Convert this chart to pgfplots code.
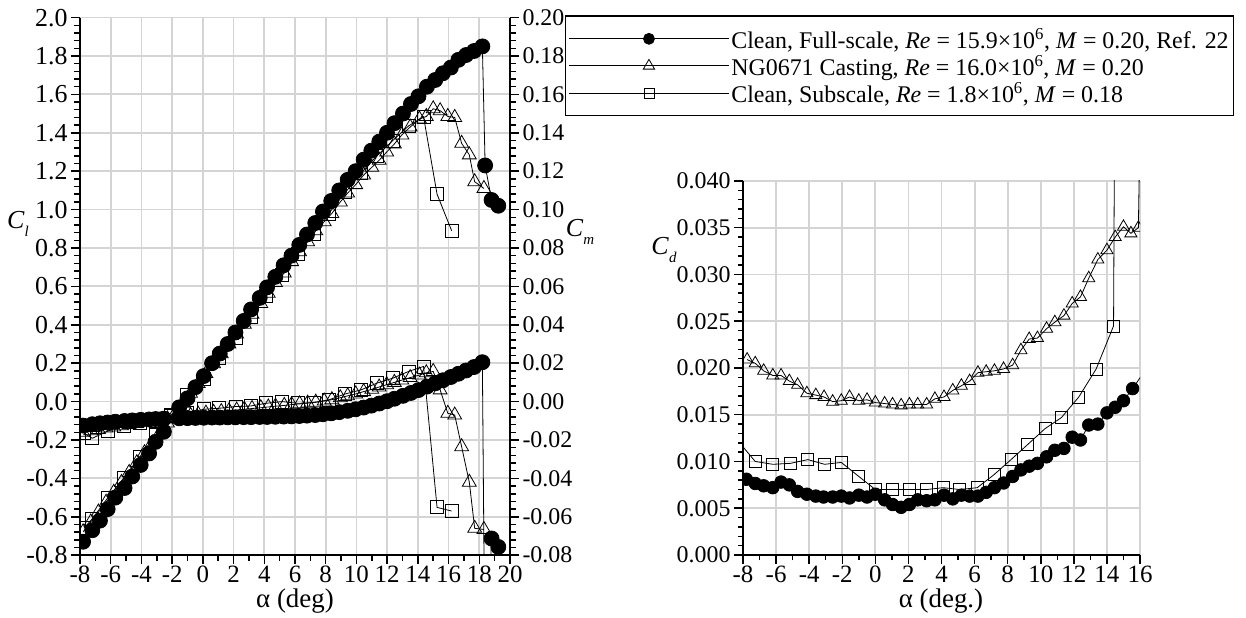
\documentclass[border=0pt]{standalone}
\usepackage{fontspec}
\setmainfont{Liberation Serif}
\usepackage{pgfplots}
\pgfplotsset{compat=1.18}

\pgfplotsset{
  mybase/.style={
    scale only axis,
    tick label style={font=\fontsize{24}{24}\selectfont},
    xticklabel style={inner sep=1.5bp, font=\fontsize{25}{25}\selectfont},
    /pgf/number format/assume math mode=true,
    major tick length=9bp, minor tick length=5.5bp,
    tick style={black, line width=1.5bp},
    minor tick style={black, line width=1.5bp},
    tick align=outside,
    axis line style={line width=1.8bp},
    major grid style={draw=black!17, line width=1.8bp},
    clip marker paths=true,
    every axis plot/.append style={line width=0.8bp},
  },
  pc/.style={black, mark=*, mark size=#1, mark options={fill=black, solid}},
  pt/.style={black, mark=triangle, mark size=#1, mark options={solid, fill=white, line width=0.8bp}},
  ps/.style={black, mark=square, mark size=#1, mark options={solid, fill=white, line width=0.8bp}},
}

\begin{document}
\begin{tikzpicture}[x=1bp,y=1bp]
\useasboundingbox (0,0) rectangle (1246,618);

% ---------------- Cl axis ----------------
\begin{axis}[mybase,
  at={(80bp,62.8bp)}, anchor=south west,
  width=430bp, height=537.6bp,
  xmin=-8, xmax=20, ymin=-0.8, ymax=2.0,
  xtick={-8,-6,-4,-2,0,2,4,6,8,10,12,14,16,18,20},
  ytick={-0.8,-0.6,-0.4,-0.2,0,0.2,0.4,0.6,0.8,1.0,1.2,1.4,1.6,1.8,2.0},
  minor x tick num=1, minor y tick num=4,
  grid=major,
  axis x line*=bottom, axis y line*=left,
  yticklabel style={font=\fontsize{26}{26}\selectfont, /pgf/number format/.cd, fixed, fixed zerofill, precision=1},
  legend style={at={(1.1279,1.0039)}, anchor=north west, draw=black, line width=1.1bp,
    fill=white, font=\fontsize{24}{28}\selectfont, row sep=1.5bp,
    inner xsep=3bp, inner ysep=10bp},
  legend cell align=left,
  legend image code/.code={\draw[mark repeat=2,mark phase=2,#1] plot coordinates {(0bp,0bp) (80bp,0bp) (160bp,0bp)};},
]
\addlegendimage{pc=5.5bp, line width=0.8bp}
\addlegendentry{Clean, Full-scale, \textit{Re} = 15.9×10\textsuperscript{6}, \textit{M} = 0.20, Ref. 22}
\addlegendimage{pt=6.5bp, line width=0.8bp}
\addlegendentry{NG0671 Casting, \textit{Re} = 16.0×10\textsuperscript{6}, \textit{M} = 0.20}
\addlegendimage{ps=5bp, line width=0.8bp}
\addlegendentry{Clean, Subscale, \textit{Re} = 1.8×10\textsuperscript{6}, \textit{M} = 0.18}

% squares Cl
\addplot[ps=6.5bp, forget plot] coordinates {
(-7.74,-0.66) (-7.2,-0.61) (-6.18,-0.50) (-5.14,-0.397) (-4.1,-0.287) (-3.08,-0.174)
(-2.06,-0.07) (-1.02,0.035) (0.06,0.118) (1.04,0.226) (2.12,0.33) (3.1,0.443)
(4.12,0.55) (5.16,0.66) (6.2,0.77) (7.2,0.875) (8.2,0.98) (9.28,1.09) (10.3,1.19)
(11.33,1.28) (12.37,1.36) (13.4,1.436) (14.37,1.484) (15.25,1.08) (16.2,0.89)};
% triangles Cl
\addplot[pt=8bp, forget plot] coordinates {
(-7.8,-0.678) (-7.3,-0.627) (-6.8,-0.575) (-6.3,-0.524) (-5.8,-0.472) (-5.3,-0.421)
(-4.8,-0.369) (-4.3,-0.318) (-3.8,-0.266) (-3.3,-0.215) (-2.8,-0.163) (-2.3,-0.112)
(-1.8,-0.060) (-1.3,-0.009) (-0.8,0.043) (-0.3,0.094) (0.2,0.146) (0.7,0.197)
(1.2,0.249) (1.7,0.300) (2.2,0.352) (2.7,0.403) (3.2,0.455) (3.77,0.511)
(4.26,0.564) (4.73,0.62) (5.3,0.67) (5.78,0.729) (6.3,0.78) (6.82,0.833)
(7.35,0.89) (7.9,0.937) (8.4,0.98) (8.95,1.04) (9.43,1.086) (9.95,1.13)
(10.47,1.18) (11.0,1.22) (11.48,1.257) (11.97,1.30) (12.47,1.342) (12.96,1.389)
(13.5,1.43) (14.1,1.472) (14.55,1.485) (15.0,1.525) (15.45,1.515) (15.95,1.485)
(16.4,1.48) (16.85,1.345) (17.35,1.285) (17.7,1.145) (18.3,1.11)};
% circles Cl
\addplot[pc=7.5bp, forget plot] coordinates {
(-7.8,-0.73) (-7.2,-0.67) (-6.7,-0.62) (-6.2,-0.56) (-5.7,-0.50) (-5.1,-0.45)
(-4.6,-0.39) (-4.05,-0.33) (-3.5,-0.27) (-3.08,-0.21) (-2.54,-0.157) (-1.54,-0.03)
(-1.0,0.017) (-0.48,0.075) (0.06,0.133) (0.6,0.20) (1.1,0.25) (1.62,0.30)
(2.12,0.36) (2.66,0.42) (3.14,0.48) (3.7,0.54) (4.18,0.595) (4.72,0.65)
(5.26,0.71) (5.77,0.76) (6.28,0.816) (6.78,0.87) (7.32,0.93) (7.82,0.99)
(8.36,1.045) (8.88,1.10) (9.43,1.155) (9.95,1.20) (10.47,1.26) (10.97,1.307)
(11.49,1.354) (11.99,1.40) (12.48,1.45) (13.03,1.50) (13.55,1.55) (14.04,1.59)
(14.59,1.64) (15.13,1.675) (15.63,1.71) (16.15,1.74) (16.64,1.78) (17.14,1.805)
(17.66,1.826) (18.2,1.85) (18.38,1.23) (18.8,1.05) (19.24,1.02)};
\end{axis}

% ---------------- Cm axis ----------------
\begin{axis}[mybase,
  at={(80bp,62.8bp)}, anchor=south west,
  width=430bp, height=537.6bp,
  xmin=-8, xmax=20, ymin=-0.08, ymax=0.20,
  hide x axis,
  axis y line*=right,
  ytick={-0.08,-0.06,-0.04,-0.02,0,0.02,0.04,0.06,0.08,0.10,0.12,0.14,0.16,0.18,0.20},
  minor y tick num=4,
  scaled y ticks=false,
  yticklabel style={/pgf/number format/.cd, fixed, fixed zerofill, precision=2},
]
% squares Cm
\addplot[ps=6.5bp] coordinates {
(-7.74,-0.0165) (-7.2,-0.0191) (-6.18,-0.0153) (-5.14,-0.0127) (-4.1,-0.0110) (-3.08,-0.0099)
(-2.06,-0.0075) (-1.02,-0.0060) (0.06,-0.0040) (1.04,-0.0035) (2.12,-0.0026) (3.1,-0.0023)
(4.12,-0.0009) (5.16,0.0000) (6.2,-0.0009) (7.2,-0.0005) (8.2,0.0009) (9.28,0.0040)
(10.3,0.0061) (11.33,0.0096) (12.37,0.0122) (13.4,0.0157) (14.37,0.0183) (15.25,-0.0551) (16.2,-0.0570)};
% triangles Cm
\addplot[pt=8bp] coordinates {
(-7.8,-0.0160) (-7.3,-0.0152) (-6.8,-0.0145) (-6.3,-0.0138) (-5.8,-0.0132) (-5.3,-0.0126)
(-4.8,-0.0120) (-4.3,-0.0114) (-3.8,-0.0108) (-3.3,-0.0102) (-2.8,-0.0096) (-2.3,-0.0090)
(-1.8,-0.0085) (-1.3,-0.0078) (-0.8,-0.0072) (-0.3,-0.0066) (0.2,-0.0060) (0.7,-0.0056)
(1.2,-0.0052) (1.7,-0.0048) (2.2,-0.0044) (2.7,-0.0040) (3.2,-0.0036) (3.77,-0.0032)
(4.26,-0.0028) (4.73,-0.0024) (5.3,-0.0020) (5.78,-0.0016) (6.3,-0.0012) (6.82,-0.0008)
(7.35,-0.0003) (7.9,0.0003) (8.4,0.0010) (8.95,0.0020) (9.43,0.0030) (9.95,0.0040)
(10.47,0.0052) (11.0,0.0064) (11.48,0.0076) (11.97,0.0088) (12.47,0.0100) (12.96,0.0112)
(13.5,0.0125) (14.1,0.0138) (14.55,0.0150) (15.0,0.0157) (15.45,0.0061) (15.95,-0.0061)
(16.4,-0.0070) (16.85,-0.0235) (17.35,-0.0420) (17.7,-0.0660) (18.3,-0.0666)};
% circles Cm
\addplot[pc=7.5bp] coordinates {
(-7.8,-0.0125) (-7.2,-0.0118) (-6.7,-0.0113) (-6.2,-0.0109) (-5.7,-0.0105) (-5.1,-0.0101)
(-4.6,-0.0098) (-4.05,-0.0095) (-3.5,-0.0093) (-3.08,-0.0091) (-2.54,-0.0089) (-1.54,-0.0087)
(-1.0,-0.0086) (-0.48,-0.0085) (0.06,-0.0084) (0.6,-0.0083) (1.1,-0.0083) (1.62,-0.0082)
(2.12,-0.0082) (2.66,-0.0081) (3.14,-0.0081) (3.7,-0.0080) (4.18,-0.0080) (4.72,-0.0079)
(5.26,-0.0078) (5.77,-0.0077) (6.28,-0.0075) (6.78,-0.0073) (7.32,-0.0070) (7.82,-0.0066)
(8.36,-0.0061) (8.88,-0.0055) (9.43,-0.0048) (9.95,-0.0040) (10.47,-0.0031) (10.97,-0.0021)
(11.49,-0.0010) (11.99,0.0002) (12.48,0.0015) (13.03,0.0030) (13.55,0.0045) (14.04,0.0060)
(14.59,0.0078) (15.13,0.0095) (15.63,0.0111) (16.15,0.0128) (16.64,0.0145) (17.14,0.0162)
(17.66,0.0180) (18.2,0.0205) (18.38,-0.1500) (18.8,-0.0713) (19.24,-0.0757)};
\end{axis}

% ---------------- Cd axis ----------------
\begin{axis}[mybase,
  at={(743bp,63bp)}, anchor=south west,
  width=397bp, height=374bp,
  xmin=-8, xmax=16, ymin=0, ymax=0.04,
  xtick={-8,-6,-4,-2,0,2,4,6,8,10,12,14,16},
  ytick={0,0.005,0.010,0.015,0.020,0.025,0.030,0.035,0.040},
  minor x tick num=1, minor y tick num=4,
  scaled y ticks=false,
  grid=major,
  axis x line*=bottom, axis y line*=left,
  yticklabel style={/pgf/number format/.cd, fixed, fixed zerofill, precision=3},
]
% triangles Cd
\addplot[pt=7bp] coordinates {
(-7.75,0.0209) (-7.26,0.0205) (-6.75,0.0197) (-6.2,0.0192) (-5.7,0.0192) (-5.2,0.0186)
(-4.7,0.0182) (-4.14,0.0173) (-3.6,0.0171) (-3.1,0.0169) (-2.58,0.0164) (-2.06,0.0165)
(-1.56,0.0169) (-1.0,0.0165) (-0.5,0.0166) (0,0.0163) (0.56,0.0162) (1.04,0.0161)
(1.56,0.0160) (2.06,0.0161) (2.56,0.0161) (3.1,0.0161) (3.6,0.0167) (4.15,0.0169)
(4.68,0.0176) (5.2,0.0181) (5.7,0.0186) (6.2,0.0195) (6.7,0.0196) (7.2,0.0197)
(7.75,0.0199) (8.3,0.0203) (8.8,0.0219) (9.3,0.0231) (9.8,0.0232) (10.35,0.0242)
(10.85,0.0249) (11.4,0.0256) (11.9,0.0269) (12.4,0.0276) (12.9,0.0296) (13.45,0.0316)
(14.0,0.0326) (14.5,0.0340) (15.0,0.0351) (15.45,0.0344) (15.9,0.0350) (16.0,0.0460)};
% squares Cd
\addplot[ps=6bp] coordinates {
(-8.3,0.0122) (-7.26,0.0100) (-6.2,0.0097) (-5.14,0.0098) (-4.08,0.0102) (-3.07,0.0097)
(-2.06,0.0099) (-1.0,0.0084) (0,0.0070) (1.04,0.0070) (2.06,0.0070) (3.1,0.0070)
(4.1,0.0072) (5.1,0.0070) (6.16,0.0072) (7.18,0.0086) (8.2,0.0102) (9.2,0.0118)
(10.25,0.0135) (11.25,0.0147) (12.3,0.0169) (13.35,0.0199) (14.4,0.0245) (14.5,0.0600)};
% circles Cd
\addplot[pc=6.3bp] coordinates {
(-7.8,0.0081) (-7.26,0.00765) (-6.75,0.0074) (-6.2,0.0072) (-5.7,0.0078) (-5.2,0.0075)
(-4.7,0.0068) (-4.14,0.0065) (-3.6,0.0063) (-3.13,0.0062) (-2.58,0.0062) (-2.06,0.0063)
(-1.56,0.0061) (-1.0,0.0064) (-0.5,0.0062) (0,0.0065) (0.56,0.0059) (1.04,0.0054)
(1.56,0.0051) (2.06,0.0054) (2.56,0.0059) (3.1,0.0058) (3.6,0.0059) (4.15,0.0064)
(4.68,0.0060) (5.2,0.0064) (5.7,0.0063) (6.2,0.0063) (6.7,0.0067) (7.2,0.0072)
(7.75,0.0077) (8.3,0.0084) (8.8,0.0091) (9.3,0.0095) (9.8,0.0098) (10.35,0.0105)
(10.85,0.0112) (11.4,0.0114) (11.9,0.0126) (12.4,0.0123) (12.9,0.0139) (13.45,0.0140)
(14.0,0.0152) (14.5,0.0158) (15.0,0.0165) (15.55,0.0178) (16.1,0.0192)};
\end{axis}

% axis labels
\node[font=\fontsize{27}{27}\selectfont, inner sep=0, anchor=base] at (295,10) {α (deg)};
\node[font=\fontsize{27}{27}\selectfont, inner sep=0, anchor=base] at (941,10) {α (deg.)};
\node[font=\fontsize{26}{26}\selectfont, inner sep=0] at (18,394) {\textit{C}\raisebox{-0.3em}{\fontsize{15}{15}\selectfont\textit{l}}};
\node[font=\fontsize{26}{26}\selectfont, inner sep=0] at (580,386) {\textit{C}\raisebox{-0.3em}{\fontsize{15}{15}\selectfont\textit{m}}};
\node[font=\fontsize{26}{26}\selectfont, inner sep=0] at (664,368) {\textit{C}\raisebox{-0.3em}{\fontsize{15}{15}\selectfont\textit{d}}};
\end{tikzpicture}
\end{document}
